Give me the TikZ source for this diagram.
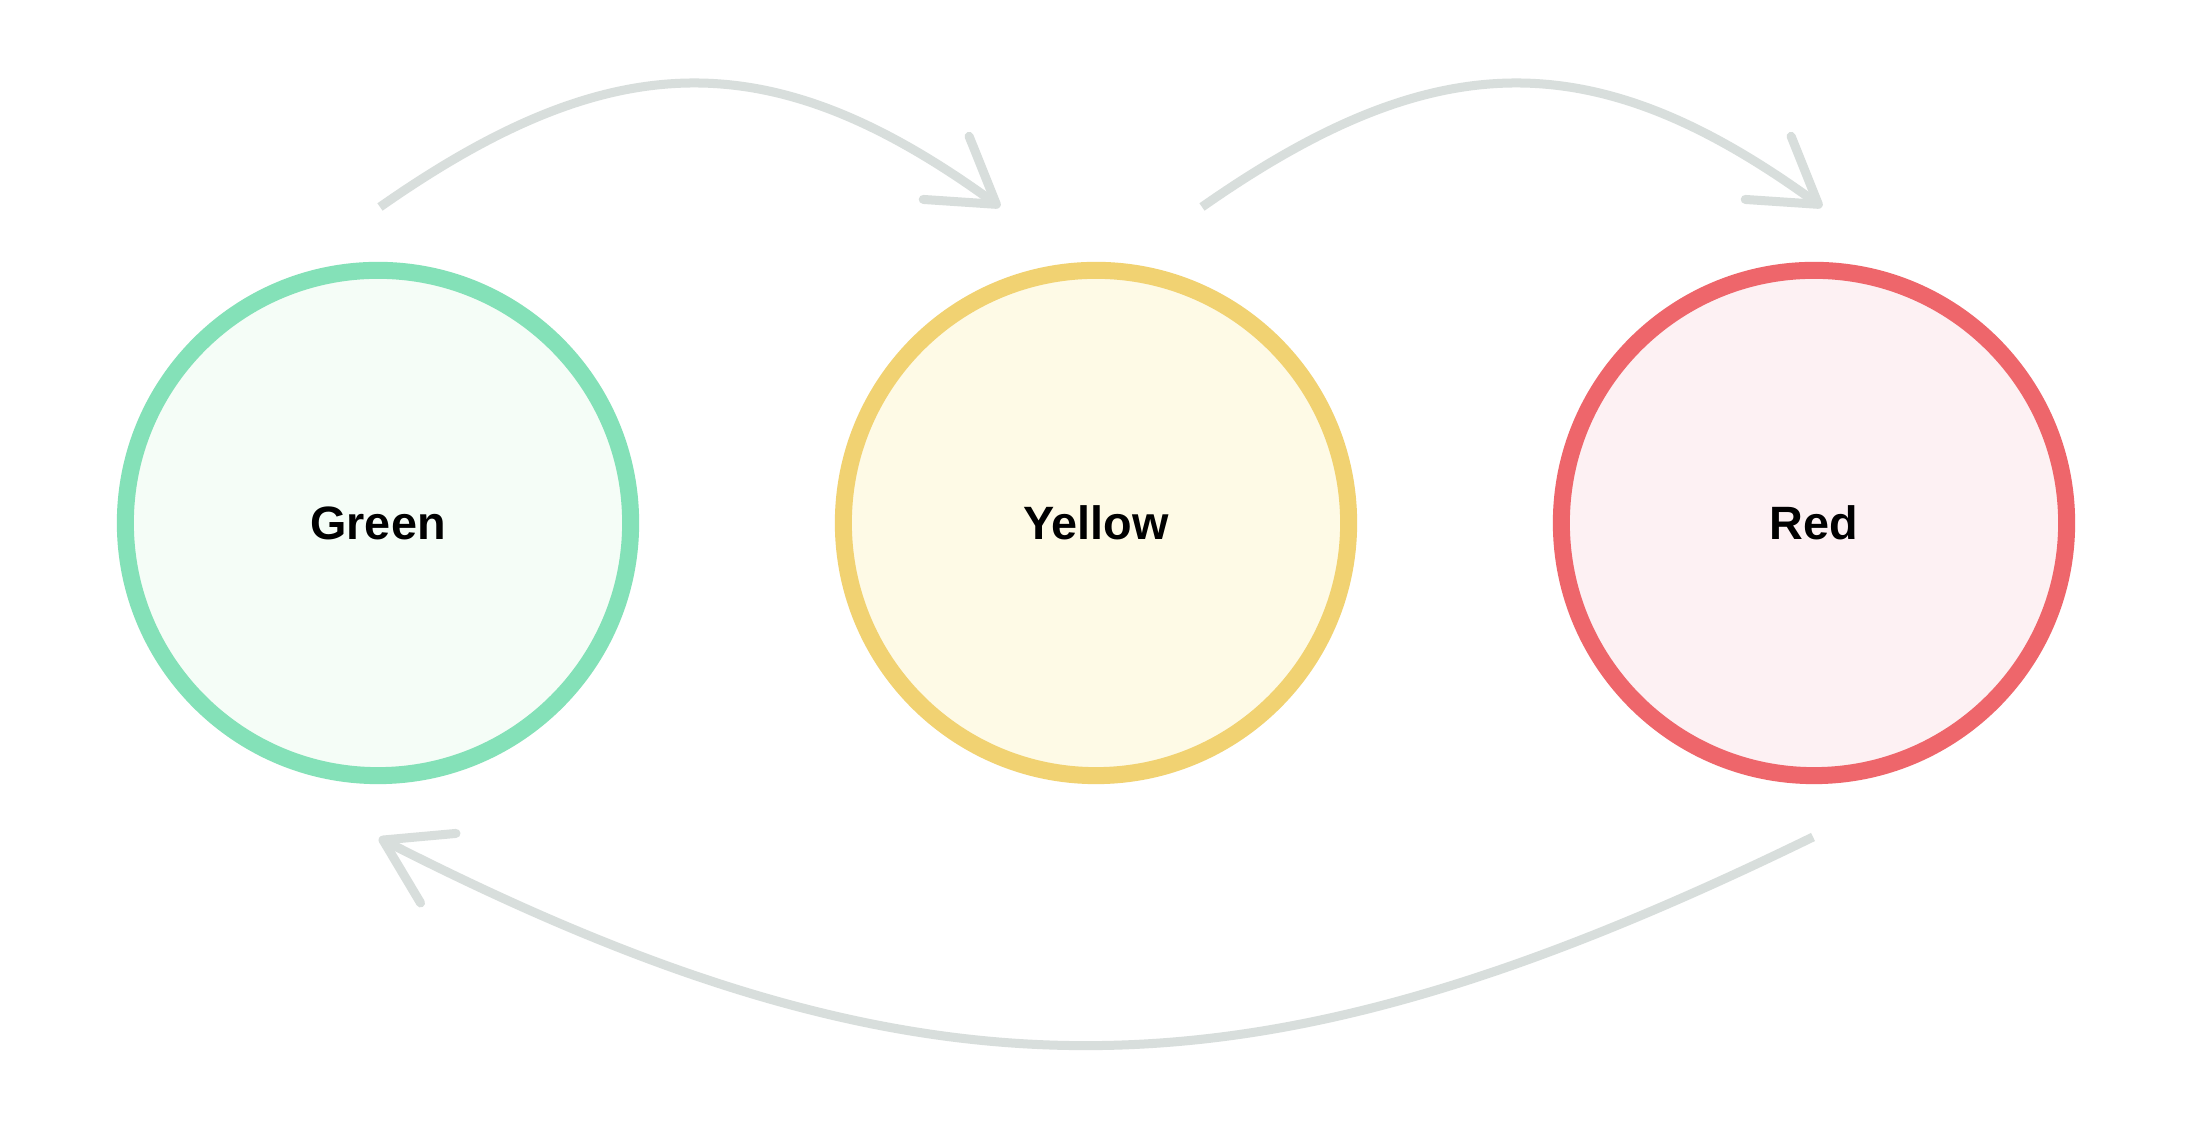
\documentclass[tikz,border=0pt]{standalone}
\usepackage{fontspec}
\setmainfont{Liberation Sans}
\usetikzlibrary{arrows.meta}

\definecolor{greenline}{HTML}{84E1B8}
\definecolor{greenfill}{HTML}{F5FDF7}
\definecolor{yellowline}{HTML}{F1D272}
\definecolor{yellowfill}{HTML}{FEFAE6}
\definecolor{redline}{HTML}{EE666B}
\definecolor{redfill}{HTML}{FDF1F3}
\definecolor{arrowgrey}{HTML}{D8DEDC}

\tikzset{
  lamp/.style={circle, minimum size=5.05cm, inner sep=0pt, line width=0.17cm,
    font=\fontsize{13.3}{15}\selectfont\bfseries},
  cycle/.style={draw=arrowgrey, line width=0.09cm,
    -{Straight Barb[length=0.62cm, width=0.78cm, round]}}
}

\begin{document}
\begin{tikzpicture}[x=0.01cm, y=0.01cm]
\fill[white] (0,0) rectangle (2193,1137);

\node[lamp, draw=greenline, fill=greenfill] (green) at (378,614)
	{Green};
\node[lamp, draw=yellowline, fill=yellowfill] (yellow) at (1096,614)
	{Yellow};
\node[lamp, draw=redline, fill=redfill] (red) at (1814,614)
	{Red};

% free ends of the cycle arrows
\coordinate (green-out) at (380,930);
\coordinate (yellow-in) at (1000,930);
\coordinate (yellow-out) at (1202,930);
\coordinate (red-in) at (1822,930);
\coordinate (red-out) at (1813,300);
\coordinate (green-in) at (379,299);

\draw[cycle] (green-out) to[out=35, in=144, distance=2.83cm] (yellow-in);
\draw[cycle] (yellow-out) to[out=35, in=144, distance=2.83cm] (red-in);
\draw[cycle] (red-out) to[out=206, in=333, distance=6.2cm] (green-in);
\end{tikzpicture}
\end{document}
